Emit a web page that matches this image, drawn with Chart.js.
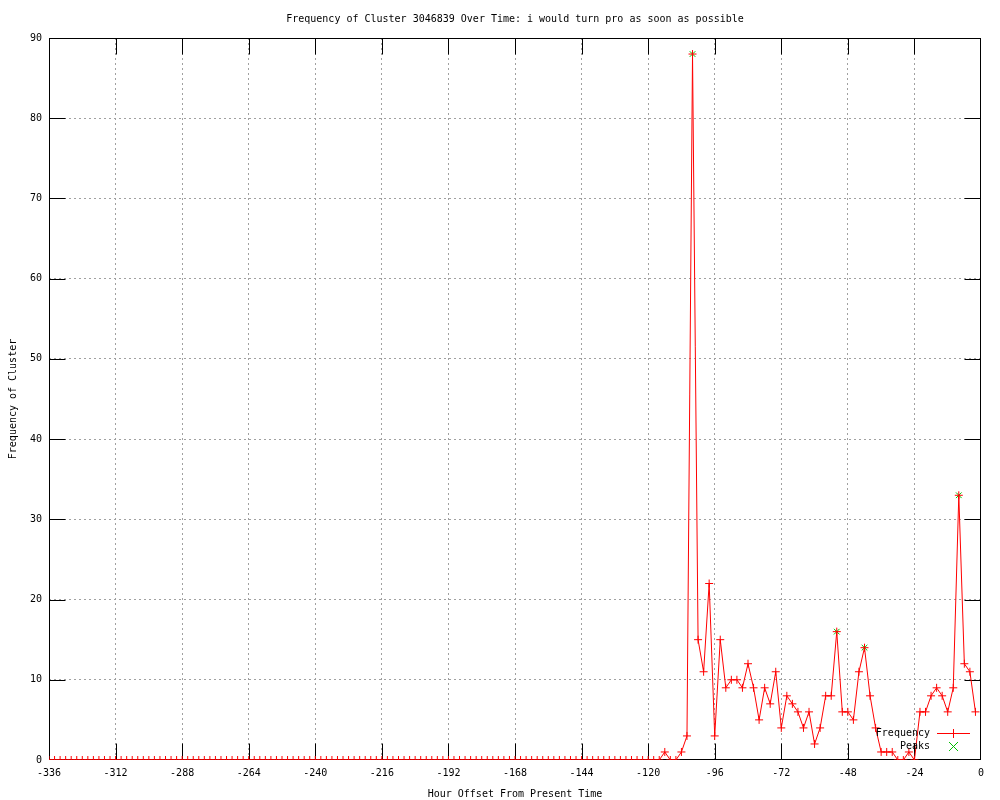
<!DOCTYPE html>
<html lang="en">
<head>
    <meta charset="UTF-8">
    <title>Frequency of Cluster 3046839 Over Time</title>
    <script src="https://cdn.jsdelivr.net/npm/chart.js"></script>
    <style>
        body { margin: 0; background: #fff; }
        #wrap { width: 1000px; height: 800px; }
    </style>
</head>
<body>
    <div id="wrap"><canvas id="freqChart" width="1000" height="800"></canvas></div>
    <script>
        // hour offsets (every 2 hours)
        const hours = [
            -336, -334, -332, -330, -328, -326, -324, -322, -320, -318, -316, -314,
            -312, -310, -308, -306, -304, -302, -300, -298, -296, -294, -292, -290,
            -288, -286, -284, -282, -280, -278, -276, -274, -272, -270, -268, -266,
            -264, -262, -260, -258, -256, -254, -252, -250, -248, -246, -244, -242,
            -240, -238, -236, -234, -232, -230, -228, -226, -224, -222, -220, -218,
            -216, -214, -212, -210, -208, -206, -204, -202, -200, -198, -196, -194,
            -192, -190, -188, -186, -184, -182, -180, -178, -176, -174, -172, -170,
            -168, -166, -164, -162, -160, -158, -156, -154, -152, -150, -148, -146,
            -144, -142, -140, -138, -136, -134, -132, -130, -128, -126, -124, -122,
            -120, -118, -116, -114, -112, -110, -108, -106, -104, -102, -100, -98,
            -96, -94, -92, -90, -88, -86, -84, -82, -80, -78, -76, -74,
            -72, -70, -68, -66, -64, -62, -60, -58, -56, -54, -52, -50,
            -48, -46, -44, -42, -40, -38, -36, -34, -32, -30, -28, -26,
            -24, -22, -20, -18, -16, -14, -12, -10, -8, -6, -4, -2
        ];
        const frequency = [
            0, 0, 0, 0, 0, 0, 0, 0, 0, 0, 0, 0,
            0, 0, 0, 0, 0, 0, 0, 0, 0, 0, 0, 0,
            0, 0, 0, 0, 0, 0, 0, 0, 0, 0, 0, 0,
            0, 0, 0, 0, 0, 0, 0, 0, 0, 0, 0, 0,
            0, 0, 0, 0, 0, 0, 0, 0, 0, 0, 0, 0,
            0, 0, 0, 0, 0, 0, 0, 0, 0, 0, 0, 0,
            0, 0, 0, 0, 0, 0, 0, 0, 0, 0, 0, 0,
            0, 0, 0, 0, 0, 0, 0, 0, 0, 0, 0, 0,
            0, 0, 0, 0, 0, 0, 0, 0, 0, 0, 0, 0,
            0, 0, 0, 1, 0, 0, 1, 3, 88, 15, 11, 22,
            3, 15, 9, 10, 10, 9, 12, 9, 5, 9, 7, 11,
            4, 8, 7, 6, 4, 6, 2, 4, 8, 8, 16, 6,
            6, 5, 11, 14, 8, 4, 1, 1, 1, 0, 0, 1,
            0, 6, 6, 8, 9, 8, 6, 9, 33, 12, 11, 6
        ];
        const peakHours = [-104, -52, -42, -8];
        const peakValues = [88, 16, 14, 33];

        const xTicks = { min: -336, max: 0, step: 24 };
        const yTicks = { min: 0, max: 90, step: 10 };

        const chartTitle = 'Frequency of Cluster 3046839 Over Time: i would turn pro as soon as possible';
        const FONT = '"DejaVu Sans Mono", "Liberation Mono", monospace';
        const RED = '#ff0000';
        const GREEN = '#00c000';

        // hide grid lines that sit on the border
        function gridColor(ctx) {
            const s = ctx.scale;
            if (ctx.tick && (ctx.tick.value === s.min || ctx.tick.value === s.max)) return 'rgba(0,0,0,0)';
            return '#a0a0a0';
        }

        // gnuplot style frame with inward tick marks, title centred on plot
        const framePlugin = {
            id: 'frame',
            beforeDatasetsDraw(chart) {
                const { ctx, chartArea: a, scales } = chart;
                const L = Math.round(a.left) + 0.5, R = Math.round(a.right) - 0.5;
                const T = Math.round(a.top) + 0.5, B = Math.round(a.bottom) - 0.5;
                const len = 16;
                ctx.save();
                ctx.strokeStyle = '#000';
                ctx.lineWidth = 1;
                ctx.beginPath();
                scales.x.ticks.forEach(t => {
                    const x = Math.round(scales.x.getPixelForValue(t.value)) + 0.5;
                    if (x <= L + 1 || x >= R - 1) return;
                    ctx.moveTo(x, B); ctx.lineTo(x, B - len);
                    ctx.moveTo(x, T); ctx.lineTo(x, T + len);
                });
                scales.y.ticks.forEach(t => {
                    const y = Math.round(scales.y.getPixelForValue(t.value)) + 0.5;
                    if (y <= T + 1 || y >= B - 1) return;
                    ctx.moveTo(L, y); ctx.lineTo(L + len, y);
                    ctx.moveTo(R, y); ctx.lineTo(R - len, y);
                });
                ctx.stroke();
                ctx.strokeRect(L, T, R - L, B - T);

                ctx.font = '10px ' + FONT;
                ctx.fillStyle = '#000';
                ctx.textAlign = 'center';
                ctx.textBaseline = 'middle';
                ctx.fillText(chartTitle, (a.left + a.right) / 2, 19);
                ctx.restore();
            }
        };

        // key in the lower right corner, text left of the sample
        const keyPlugin = {
            id: 'key',
            afterDraw(chart) {
                const { ctx, chartArea: a } = chart;
                const ds = chart.data.datasets;
                const textX = a.right - 51;
                const sx1 = Math.round(a.right - 44), sx2 = Math.round(a.right - 11);
                const mx = Math.round(a.right - 28);
                const rows = [Math.round(a.bottom - 27), Math.round(a.bottom - 14)];
                ctx.save();
                ctx.font = '10px ' + FONT;
                ctx.textAlign = 'right';
                ctx.textBaseline = 'middle';
                ds.forEach((d, i) => {
                    const y = rows[i];
                    ctx.fillStyle = '#000';
                    ctx.fillText(d.label, textX, y);
                    if (i === 0) {
                        ctx.fillStyle = RED;
                        ctx.fillRect(sx1, y, sx2 - sx1, 1);
                        ctx.fillRect(mx, y - 4, 1, 9);
                    } else {
                        ctx.fillStyle = GREEN;
                        for (let k = -4; k <= 4; k++) {
                            ctx.fillRect(mx + k, y + k, 1, 1);
                            ctx.fillRect(mx + k, y - k, 1, 1);
                        }
                    }
                });
                ctx.restore();
            }
        };

        const ctxFreq = document.getElementById('freqChart').getContext('2d');
        new Chart(ctxFreq, {
            type: 'line',
            data: {
                datasets: [
                    {
                        label: 'Frequency',
                        data: hours.map((h, i) => ({ x: h, y: frequency[i] })),
                        borderColor: RED,
                        backgroundColor: RED,
                        borderWidth: 1,
                        pointStyle: 'cross',
                        pointRadius: 4,
                        pointBorderWidth: 1,
                        tension: 0,
                        fill: false
                    },
                    {
                        label: 'Peaks',
                        data: peakHours.map((h, i) => ({ x: h, y: peakValues[i] })),
                        borderColor: GREEN,
                        backgroundColor: GREEN,
                        showLine: false,
                        pointStyle: 'crossRot',
                        pointRadius: 4,
                        pointBorderWidth: 1
                    }
                ]
            },
            options: {
                responsive: false,
                animation: false,
                devicePixelRatio: 1,
                layout: { padding: { left: 0, right: 19, top: 38, bottom: 0 } },
                plugins: {
                    legend: { display: false },
                    tooltip: { enabled: false },
                    title: { display: false }
                },
                scales: {
                    x: {
                        type: 'linear',
                        min: xTicks.min,
                        max: xTicks.max,
                        afterFit(scale) { scale.height = 40; },
                        ticks: {
                            stepSize: xTicks.step,
                            color: '#000',
                            padding: 7,
                            maxRotation: 0,
                            autoSkip: false,
                            font: { family: FONT, size: 10 },
                            callback: v => String(v)
                        },
                        grid: { color: gridColor, lineWidth: 1, drawTicks: false },
                        border: { display: false, dash: [2, 3] },
                        title: {
                            display: true,
                            text: 'Hour Offset From Present Time',
                            color: '#000',
                            font: { family: FONT, size: 10 },
                            padding: { top: 0, bottom: 0 }
                        }
                    },
                    y: {
                        min: yTicks.min,
                        max: yTicks.max,
                        afterFit(scale) { scale.width = 49; },
                        ticks: {
                            stepSize: yTicks.step,
                            color: '#000',
                            padding: 7,
                            font: { family: FONT, size: 10 },
                            callback: v => String(v)
                        },
                        grid: { color: gridColor, lineWidth: 1, drawTicks: false },
                        border: { display: false, dash: [2, 3] },
                        title: {
                            display: true,
                            text: 'Frequency of Cluster',
                            color: '#000',
                            font: { family: FONT, size: 10 },
                            padding: { top: 7, bottom: 0 }
                        }
                    }
                }
            },
            plugins: [framePlugin, keyPlugin]
        });
    </script>
</body>
</html>
